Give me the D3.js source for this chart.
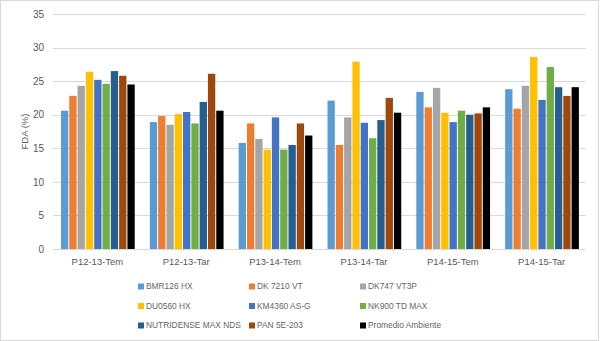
<!DOCTYPE html>
<html>
<head>
<meta charset="utf-8">
<script src="https://cdn.jsdelivr.net/npm/d3@7"></script>
<style>
  body { margin: 0; background: #fff; }
  text { font-family: "Liberation Sans", Arial, sans-serif; fill: #595959; }
</style>
</head>
<body>
<div id="plot"></div>
<script>
// FDA (%) por híbrido y ambiente
var categories = ["P12-13-Tem", "P12-13-Tar", "P13-14-Tem", "P13-14-Tar", "P14-15-Tem", "P14-15-Tar"];

var hybrids = ["BMR126 HX", "DK7210 VT", "DK747 VT3P", "DU0560 HX", "KM4360 AS-G",
  "NK900 TD MAX", "NUTRIDENSE MAX NDS", "PAN 5E-203", "Promedio Ambiente"];

var legendLabels = ["BMR126 HX", "DK 7210 VT", "DK747 VT3P", "DU0560 HX", "KM4360 AS-G",
  "NK900 TD MAX", "NUTRIDENSE MAX NDS", "PAN 5E-203", "Promedio Ambiente"];

var colors = ["#5B9BD5", "#ED7D31", "#A5A5A5", "#FFC000", "#4472C4",
  "#70AD47", "#255E91", "#9E480E", "#000000"];

// one array per hybrid, values in the order of categories
var bmr126 = [20.6, 18.9, 15.8, 22.1, 23.4, 23.8];
var dk7210 = [22.8, 19.8, 18.7, 15.5, 21.1, 20.9];
var dk747 = [24.3, 18.5, 16.4, 19.6, 24.0, 24.3];
var du0560 = [26.4, 20.1, 14.8, 27.9, 20.3, 28.6];
var km4360 = [25.2, 20.4, 19.6, 18.8, 18.9, 22.2];
var nk900 = [24.6, 18.7, 14.8, 16.5, 20.6, 27.1];
var nutridense = [26.5, 21.9, 15.5, 19.2, 20.0, 24.1];
var pan5e203 = [25.8, 26.1, 18.7, 22.5, 20.2, 22.8];
var promedio = [24.5, 20.6, 16.9, 20.3, 21.1, 24.1];

var yTicks = [0, 5, 10, 15, 20, 25, 30, 35];

var series = [bmr126, dk7210, dk747, du0560, km4360, nk900, nutridense, pan5e203, promedio];

var width = 600, height = 341;
var margin = { top: 14, right: 14, bottom: 92, left: 53 };

var svg = d3.select("#plot").append("svg")
  .attr("width", width)
  .attr("height", height);

// chart frame
svg.append("rect")
  .attr("x", 0.5).attr("y", 0.5)
  .attr("width", width - 2).attr("height", height - 1)
  .attr("fill", "#fff")
  .attr("stroke", "#D9D9D9");

var x0 = d3.scaleBand()
  .domain(categories)
  .range([margin.left, width - margin.right]);

var x1 = d3.scaleBand()
  .domain(d3.range(hybrids.length))
  .range([x0.bandwidth() * 0.09, x0.bandwidth() * 0.92])
  .paddingInner(0.12);

var yScale = d3.scaleLinear()
  .domain([0, 35])
  .range([height - margin.bottom, margin.top]);

// gridlines
svg.append("g")
  .selectAll("line")
  .data(yTicks)
  .enter().append("line")
  .attr("x1", margin.left)
  .attr("x2", width - margin.right)
  .attr("y1", function (d) { return Math.round(yScale(d)) + 0.5; })
  .attr("y2", function (d) { return Math.round(yScale(d)) + 0.5; })
  .attr("stroke", "#D9D9D9")
  .attr("stroke-width", 1);

var yAxis = d3.axisLeft(yScale).tickValues(yTicks).tickSize(0).tickPadding(9);

svg.append("g")
  .attr("transform", "translate(" + margin.left + ",0)")
  .call(yAxis)
  .call(function (g) { g.select(".domain").remove(); })
  .selectAll("text")
  .style("font-size", "10px")
  .style("font-family", "Liberation Sans, Arial, sans-serif")
  .attr("fill", "#666");

svg.append("text")
  .attr("transform", "translate(25," + ((margin.top + height - margin.bottom) / 2) + ") rotate(-90)")
  .attr("text-anchor", "middle")
  .attr("dy", "0.35em")
  .style("font-size", "9.5px")
  .style("fill", "#666")
  .text("FDA (%)");

// bars
var groups = svg.append("g")
  .selectAll("g")
  .data(categories)
  .enter().append("g")
  .attr("transform", function (d) { return "translate(" + x0(d) + ",0)"; });

groups.selectAll("rect")
  .data(function (c, i) {
    return series.map(function (s, k) { return { k: k, value: s[i] }; });
  })
  .enter().append("rect")
  .attr("x", function (d) { return x1(d.k); })
  .attr("width", x1.bandwidth())
  .attr("y", function (d) { return yScale(d.value); })
  .attr("height", function (d) { return yScale(0) - yScale(d.value); })
  .attr("fill", function (d) { return colors[d.k]; });

var xAxis = d3.axisBottom(x0).tickSize(0).tickPadding(9);

svg.append("g")
  .attr("transform", "translate(0," + yScale(0) + ")")
  .call(xAxis)
  .call(function (g) { g.select(".domain").remove(); })
  .selectAll("text")
  .style("font-size", "9.5px")
  .style("font-family", "Liberation Sans, Arial, sans-serif")
  .attr("fill", "#666");

// legend, three columns
var legend = svg.append("g")
  .selectAll("g")
  .data(legendLabels)
  .enter().append("g")
  .attr("transform", function (d, i) {
    return "translate(" + (138 + (i % 3) * 111) + "," + (286.5 + Math.floor(i / 3) * 19.5) + ")";
  });

legend.append("rect")
  .attr("x", 0).attr("y", -3)
  .attr("width", 6).attr("height", 6)
  .attr("fill", function (d, i) { return colors[i]; });

legend.append("text")
  .attr("x", 8)
  .attr("dy", "0.35em")
  .style("font-size", "8.4px")
  .style("fill", "#666")
  .text(function (d) { return d; });
</script>
</body>
</html>
